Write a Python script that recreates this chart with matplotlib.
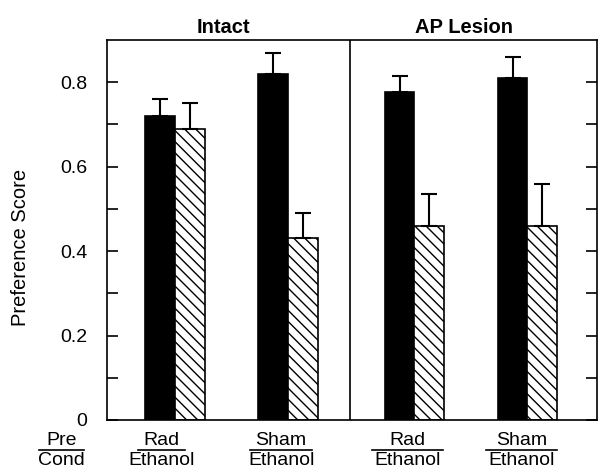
import numpy as np
import matplotlib
matplotlib.use('Agg')
import matplotlib.pyplot as plt

plt.rcParams['font.family'] = ['Liberation Sans', 'DejaVu Sans']
plt.rcParams['hatch.linewidth'] = 1.0

# data
groups = ['Rad', 'Sham', 'Rad', 'Sham']
cond = ['Ethanol', 'Ethanol', 'Ethanol', 'Ethanol']
black_vals = [0.72, 0.82, 0.778, 0.81]
black_err = [0.04, 0.05, 0.037, 0.05]
hatch_vals = [0.69, 0.43, 0.46, 0.459]
hatch_err = [0.06, 0.06, 0.075, 0.10]
panels = ['Intact', 'AP Lesion']

pos = np.array([0, 1, 2.12, 3.12])
w = 0.264

fig = plt.figure(figsize=(5.98, 4.71), dpi=100)
ax = fig.add_axes([107/598, 51/471, 490/598, 380/471])

ax.bar(pos - w/2, black_vals, w, color='black', edgecolor='black', linewidth=1.2)
ax.bar(pos + w/2, hatch_vals, w, color='white', edgecolor='black', linewidth=1.2, hatch='\\\\\\')
ax.errorbar(pos - w/2, black_vals, yerr=[np.zeros(4), black_err], fmt='none',
            ecolor='black', elinewidth=1.5, capsize=6, capthick=1.5)
ax.errorbar(pos + w/2, hatch_vals, yerr=[np.zeros(4), hatch_err], fmt='none',
            ecolor='black', elinewidth=1.5, capsize=6, capthick=1.5)

ax.set_xlim(-0.6, 3.735)
ax.set_ylim(0, 0.9)
ax.axvline(1.55, color='black', linewidth=1.2)

ax.set_yticks([0, 0.2, 0.4, 0.6, 0.8])
ax.set_yticklabels(['0', '0.2', '0.4', '0.6', '0.8'], fontsize=14)
ax.set_yticks([0.1, 0.3, 0.5, 0.7], minor=True)
ax.tick_params(axis='y', which='both', direction='in', length=8, width=1.2,
               right=True, pad=14)
ax.set_xticks([])
for s in ax.spines.values():
    s.set_linewidth(1.2)

fig.text(21/598, 1 - 247/471, 'Preference Score', rotation=90,
         ha='center', va='center', fontsize=14.5)

ax.text(0.43, 1.032, panels[0], transform=ax.get_xaxis_transform(),
        ha='center', va='center', fontsize=14.5, fontweight='bold')
ax.text(2.56, 1.032, panels[1], transform=ax.get_xaxis_transform(),
        ha='center', va='center', fontsize=14.5, fontweight='bold')

# labels under the axis: top word, a rule, bottom word
lab_x = [-0.12, 0.94, 2.06, 3.07, -1.0]
rule_w = [0.42, 0.55, 0.63, 0.63, 0.40]
tops = groups + ['Pre']
bots = cond + ['Cond']
for x, rw, t, b in zip(lab_x, rule_w, tops, bots):
    ax.text(x, -0.053, t, transform=ax.get_xaxis_transform(), ha='center',
            va='center', fontsize=14, clip_on=False)
    ax.text(x, -0.107, b, transform=ax.get_xaxis_transform(), ha='center',
            va='center', fontsize=14, clip_on=False)
    ax.plot([x - rw/2, x + rw/2], [-0.079, -0.079], color='black', linewidth=1.2,
            transform=ax.get_xaxis_transform(), clip_on=False)

fig.savefig('out.png', dpi=100)
